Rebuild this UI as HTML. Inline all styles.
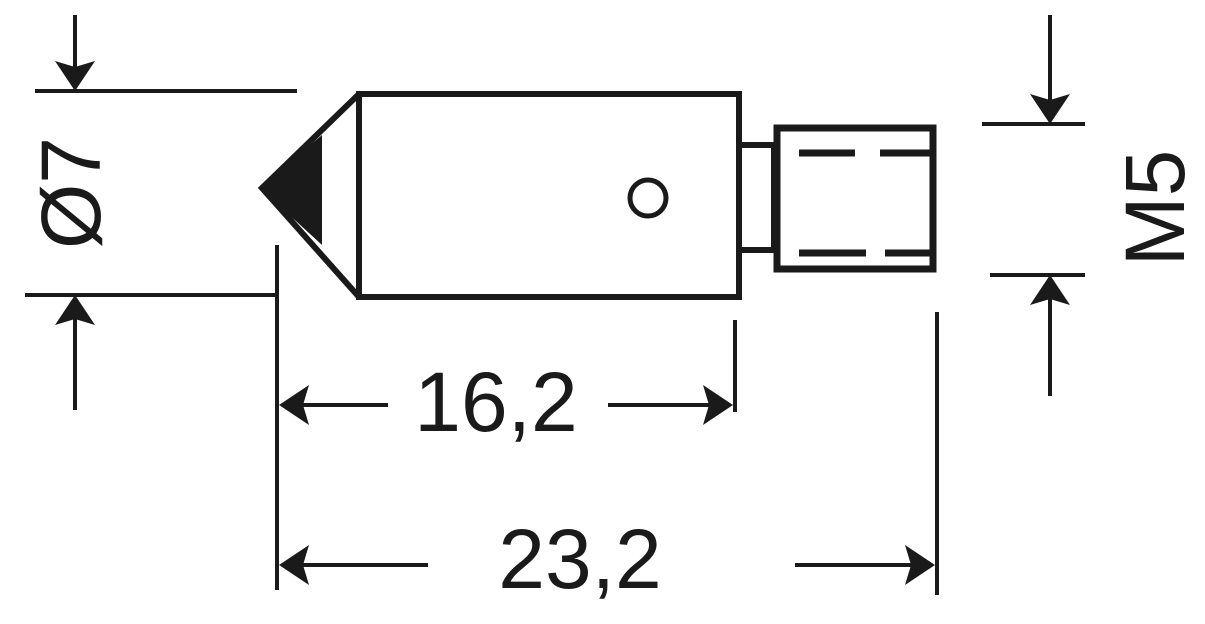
<!DOCTYPE html>
<html><head><style>html,body{margin:0;padding:0;background:#fff}</style></head><body>
<svg width="1205" height="619" viewBox="0 0 1205 619" xmlns="http://www.w3.org/2000/svg">
<defs>
<path id="ah" d="M0 0 L30 -20 L24 0 L30 20 Z" fill="#1a1a1a"/>
</defs>
<g stroke="#1a1a1a" fill="none" stroke-linecap="butt">
<rect x="359" y="94" width="380" height="203" stroke-width="6"/>
<polyline points="359,94 262,188 359,297" stroke-width="6"/>
<polygon points="260,188 322,135 322,245" fill="#1a1a1a" stroke="none"/>
<circle cx="648" cy="198" r="18" stroke-width="5"/>
<line x1="739" y1="145" x2="777" y2="145" stroke-width="6"/>
<line x1="739" y1="250" x2="777" y2="250" stroke-width="6"/>
<line x1="774" y1="142" x2="774" y2="253" stroke-width="6"/>
<rect x="777" y="128" width="156" height="141" stroke-width="7"/>
<line x1="799" y1="153" x2="855" y2="153" stroke-width="7"/>
<line x1="880" y1="153" x2="930" y2="153" stroke-width="7"/>
<line x1="799" y1="253" x2="866" y2="253" stroke-width="7"/>
<line x1="885" y1="253" x2="930" y2="253" stroke-width="7"/>
<g stroke-width="4">
<line x1="35" y1="91" x2="297" y2="91"/>
<line x1="25" y1="295" x2="277" y2="295"/>
<line x1="75" y1="15" x2="75" y2="70"/>
<line x1="75" y1="318" x2="75" y2="410"/>
<line x1="277" y1="245" x2="277" y2="590"/>
<line x1="735" y1="320" x2="735" y2="412"/>
<line x1="937" y1="312" x2="937" y2="595"/>
<line x1="300" y1="405" x2="388" y2="405"/>
<line x1="608" y1="405" x2="712" y2="405"/>
<line x1="300" y1="565" x2="428" y2="565"/>
<line x1="795" y1="565" x2="915" y2="565"/>
<line x1="982" y1="124" x2="1085" y2="124"/>
<line x1="990" y1="275" x2="1085" y2="275"/>
<line x1="1050" y1="15" x2="1050" y2="102"/>
<line x1="1050" y1="297" x2="1050" y2="396"/>
</g>
</g>
<use href="#ah" transform="translate(75,91) rotate(-90)"/>
<use href="#ah" transform="translate(75,295) rotate(90)"/>
<use href="#ah" transform="translate(279,405)"/>
<use href="#ah" transform="translate(733,405) rotate(180)"/>
<use href="#ah" transform="translate(279,565)"/>
<use href="#ah" transform="translate(935,565) rotate(180)"/>
<use href="#ah" transform="translate(1050,124) rotate(-90)"/>
<use href="#ah" transform="translate(1050,275) rotate(90)"/>
<g font-family="Liberation Sans, sans-serif" font-size="84" fill="#1a1a1a" text-anchor="middle">
<text x="496" y="431">16,2</text>
<text x="580" y="588">23,2</text>
<text transform="translate(100,193) rotate(-90)">Ø7</text>
<text transform="translate(1184,208) rotate(-90)">M5</text>
</g>
</svg>
</body></html>
